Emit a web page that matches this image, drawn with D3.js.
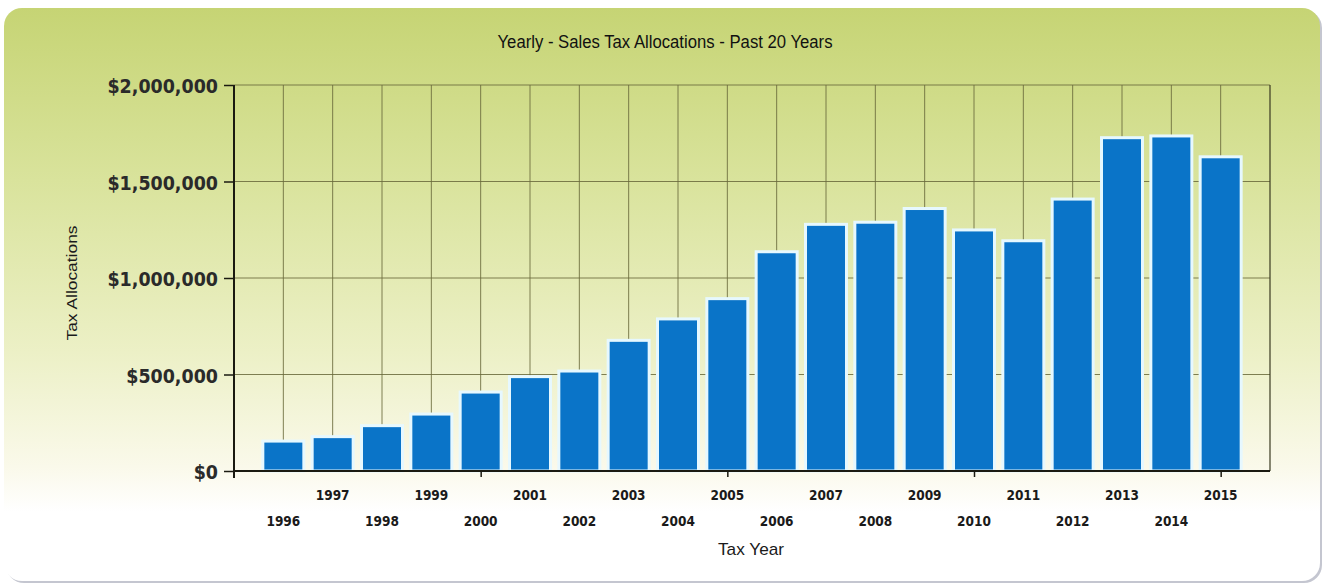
<!DOCTYPE html>
<html><head><meta charset="utf-8">
<script src="https://cdn.jsdelivr.net/npm/d3@7"></script>
<style>html,body{margin:0;padding:0;background:#fff;}svg{display:block;}</style>
</head><body>
<svg id="chart" width="1326" height="587"></svg>
<script>
const years = ["1996","1997","1998","1999","2000","2001","2002","2003","2004","2005","2006","2007","2008","2009","2010","2011","2012","2013","2014","2015"];
const allocations = [155000,178000,235000,295000,409000,489000,518000,677000,788000,893000,1136000,1278000,1289000,1360000,1249000,1193000,1409000,1727000,1736000,1628000];
const yTicks = [0,500000,1000000,1500000,2000000];
const xTickYears = ["2000","2005","2010","2015"];
const titleText = "Yearly - Sales Tax Allocations - Past 20 Years";
const yTitle = "Tax Allocations";
const xTitle = "Tax Year";

const svg = d3.select("#chart");
const defs = svg.append("defs");
const grad = defs.append("linearGradient").attr("id","bg").attr("x1",0).attr("y1",0).attr("x2",0).attr("y2",1);
grad.append("stop").attr("offset","0%").attr("stop-color","#c6d474");
grad.append("stop").attr("offset","30%").attr("stop-color","#d9e39c");
grad.append("stop").attr("offset","60%").attr("stop-color","#ecf0c6");
grad.append("stop").attr("offset","80%").attr("stop-color","#faf9ea");
grad.append("stop").attr("offset","88%").attr("stop-color","#ffffff");
grad.append("stop").attr("offset","100%").attr("stop-color","#ffffff");

// card
svg.append("rect").attr("x",6).attr("y",10).attr("width",1316).attr("height",573).attr("rx",18)
  .attr("fill","#c4c6d0");
svg.append("rect").attr("x",4).attr("y",8).attr("width",1316).attr("height",573).attr("rx",18)
  .attr("fill","url(#bg)");

const L = 234, R = 1270, T = 85, B = 471;
const x = d3.scalePoint().domain(years).range([L,R]).padding(1);
const y = d3.scaleLinear().domain([0,2000000]).range([B,T]);
const gridColor = "#6a6a3c";

// grid
svg.append("g").selectAll("line").data(yTicks.filter(d=>d>0)).join("line")
  .attr("x1",L).attr("x2",R).attr("y1",d=>y(d)).attr("y2",d=>y(d))
  .attr("stroke",gridColor).attr("stroke-width",1).attr("opacity",0.85);
svg.append("g").selectAll("line").data(years).join("line")
  .attr("x1",d=>x(d)).attr("x2",d=>x(d)).attr("y1",T).attr("y2",B)
  .attr("stroke",gridColor).attr("stroke-width",1).attr("opacity",0.85);
svg.append("line").attr("x1",R).attr("x2",R).attr("y1",T).attr("y2",B).attr("stroke","#3a3a20").attr("stroke-width",1.2);

// bars
const bw = 41;
svg.append("g").selectAll("rect").data(years).join("rect")
  .attr("x",(d)=>x(d)-bw/2).attr("width",bw)
  .attr("y",(d,i)=>y(allocations[i])).attr("height",(d,i)=>B-y(allocations[i]))
  .attr("fill","#0a74c8").attr("stroke","#e6f8ff").attr("stroke-width",3);

function squeeze(sel, f){
  sel.each(function(){ const w=this.getComputedTextLength(); d3.select(this).attr("textLength",w*f).attr("lengthAdjust","spacingAndGlyphs"); });
}

// axes
const yAxis = d3.axisLeft(y).tickValues(yTicks).tickSize(10).tickSizeOuter(0)
  .tickFormat(d=>"$"+d3.format(",")(d));
const gy = svg.append("g").attr("transform",`translate(${L},0)`).call(yAxis);
gy.select(".domain").attr("stroke","#1a1a10").attr("stroke-width",2).attr("d",`M0,${T}V${B+7}`);
gy.selectAll(".tick line").attr("stroke","#1a1a10").attr("stroke-width",1.5);
gy.selectAll(".tick text").attr("x",-16).attr("dy","0.42em")
  .attr("font-family","DejaVu Sans").attr("font-weight","bold").attr("font-size","19px").attr("fill","#2a2a2a")
  .call(squeeze, 0.92);

const xAxis = d3.axisBottom(x).tickValues(xTickYears).tickSize(6).tickSizeOuter(0).tickFormat("");
const gx = svg.append("g").attr("transform",`translate(0,${B})`).call(xAxis);
gx.select(".domain").attr("stroke","#1a1a10").attr("stroke-width",2).attr("d",`M${L},0H${R}`);
gx.selectAll(".tick line").attr("stroke","#1a1a10").attr("stroke-width",1.5);

// year labels (staggered)
svg.append("g").selectAll("text").data(years).join("text")
  .attr("x",d=>x(d)).attr("y",(d,i)=> i%2===0 ? 526 : 500)
  .attr("text-anchor","middle").attr("font-family","DejaVu Sans").attr("font-weight","bold")
  .attr("font-size","13.5px").attr("fill","#1a1a1a").text(d=>d)
  .call(squeeze, 0.9);

// titles
svg.append("text").attr("x",665).attr("y",48).attr("text-anchor","middle")
  .attr("font-family","Liberation Sans").attr("font-size","17.5px").attr("fill","#111")
  .attr("textLength",335).attr("lengthAdjust","spacingAndGlyphs").text(titleText);
svg.append("text").attr("transform","translate(77,283) rotate(-90)").attr("text-anchor","middle")
  .attr("font-family","Liberation Sans").attr("font-size","15px").attr("fill","#1a1a1a")
  .attr("textLength",115).attr("lengthAdjust","spacingAndGlyphs").text(yTitle);
svg.append("text").attr("x",751).attr("y",555).attr("text-anchor","middle")
  .attr("font-family","Liberation Sans").attr("font-size","17px").attr("fill","#1a1a1a")
  .attr("textLength",66).attr("lengthAdjust","spacingAndGlyphs").text(xTitle);
</script>
</body></html>
